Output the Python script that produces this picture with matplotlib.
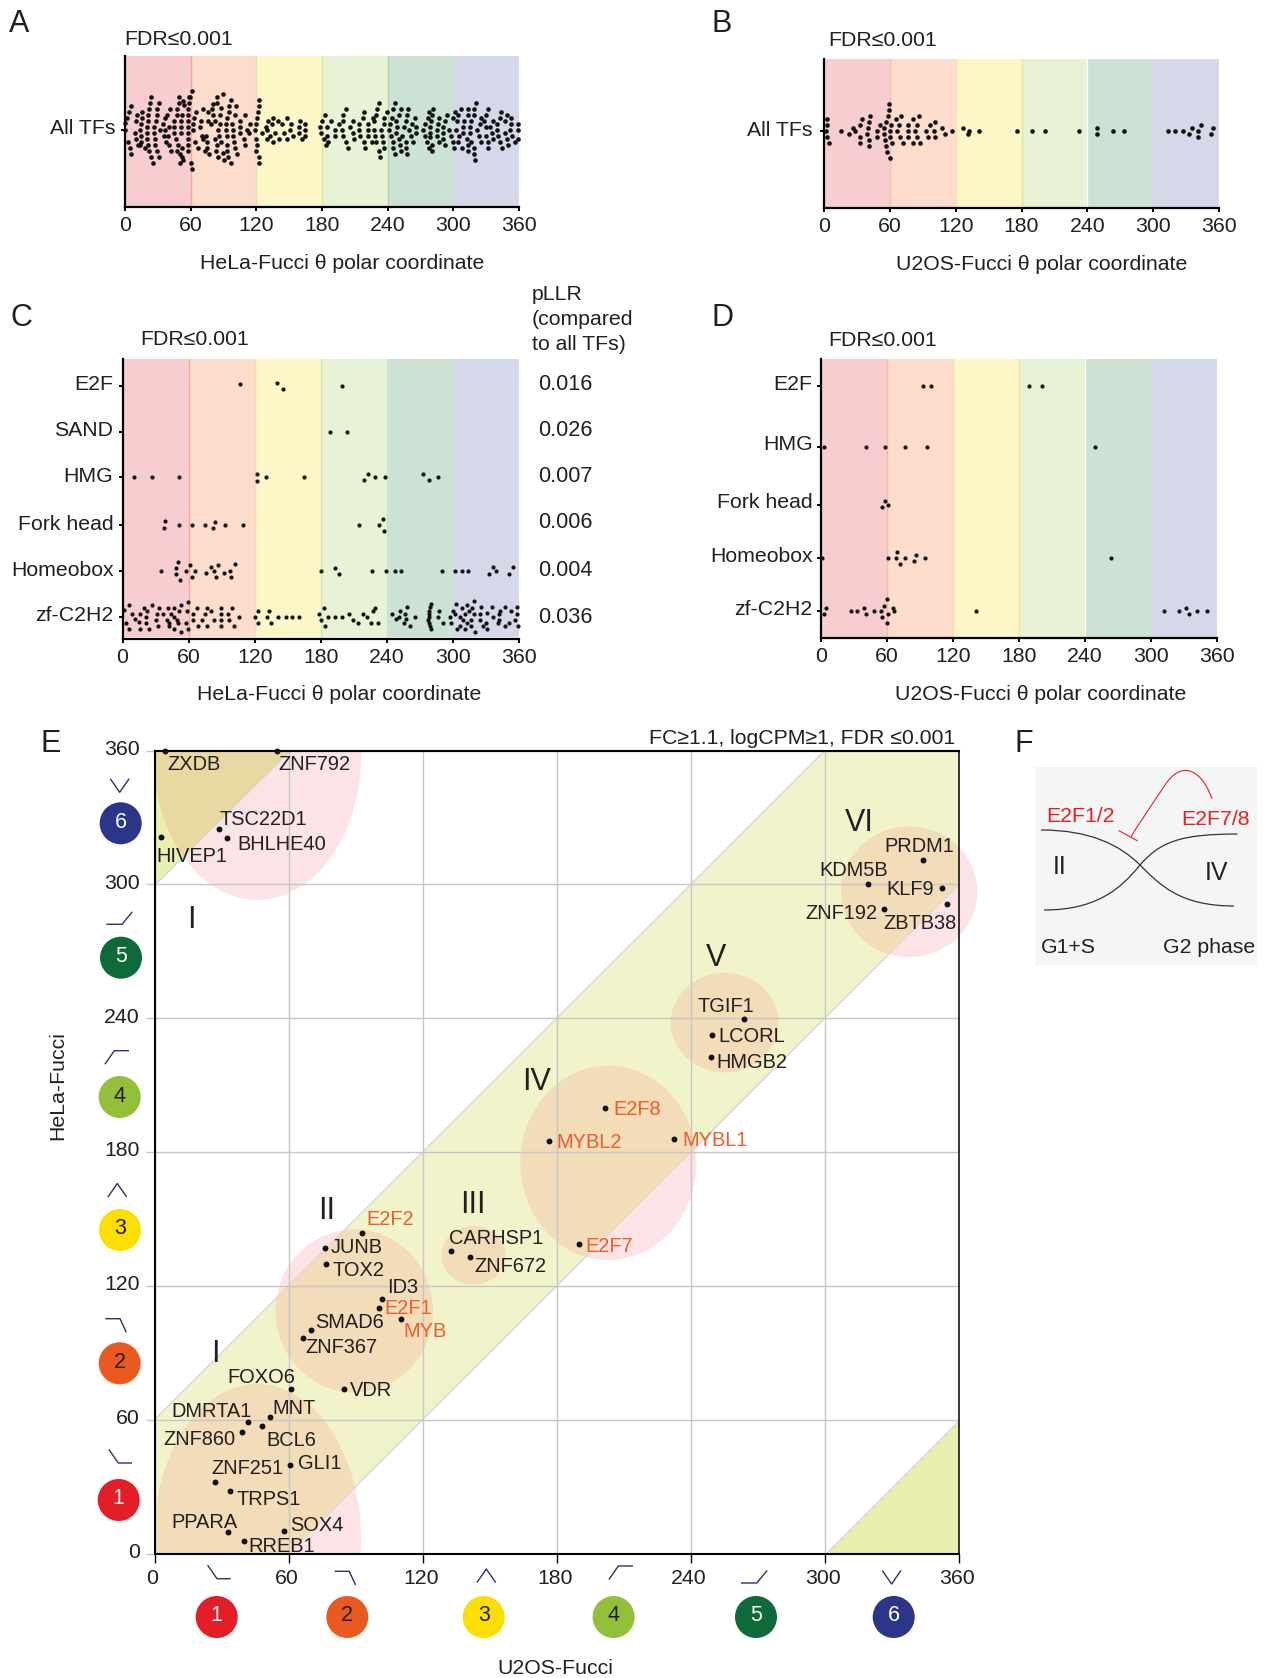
import matplotlib
matplotlib.use("Agg")
import matplotlib.pyplot as plt
from matplotlib.patches import Circle, Ellipse, PathPatch, Polygon, Rectangle
from matplotlib.path import Path
from matplotlib.transforms import ScaledTranslation

plt.rcParams["font.family"] = ["Liberation Sans", "DejaVu Sans"]

W, H = 1278, 1678
TXT = "#231f20"
FS = 15.3

# =========================
# PANEL A (HeLa, all TFs)
# =========================
a_theta = [0.3, 0.3, 3.3, 2.1, 2.7, 5.2, 4.3, 5.5, 11.3, 10, 9.4, 10, 11.9, 15.2, 14.6, 13.4, 14.3, 14.9, 13.7, 15.8,
           21.6, 21, 20.7, 20.1, 20.4, 20.1, 18.6, 22.2, 23.8, 25.9, 22.8, 24, 21.3, 26.5, 26.5, 27.1, 27.7, 28.9, 30.8, 28.3,
           29.2, 28.9, 31.1, 32, 34.4, 35.3, 37.1, 40.2, 42, 36.2, 38.7, 41.1, 39.3, 36.5, 39.9, 44.8, 44.8, 45.1, 46.6, 47.2,
           47.8, 49.6, 49, 48.4, 47.8, 50.2, 50.2, 53.3, 51.8, 52.1, 50.9, 50.9, 50.9, 51.8, 53.3, 53.9, 58.2, 58.5, 57.6, 57.2,
           57.6, 57.2, 57.9, 57.6, 57.9, 57.9, 60.9, 59.4, 60.3, 61.5,
           62.1, 63.3, 62.4, 63.9, 65.2, 67, 68.2, 69.4, 70, 71.6, 70.9, 74, 75.2, 75.5, 76.1, 77, 73.4, 75.2, 78.3, 80.1,
           79.5, 80.7, 81.9, 81.9, 84.3, 84, 85.3, 86.8, 87.7, 89.2, 88, 83.7, 83.1, 85, 89.2, 92.9, 93.5, 94.4, 90.1, 96.5,
           86.8, 85.6, 92.6, 92.9, 92.6, 92.9, 98, 98.4, 98.4, 99.6, 100.2, 102, 95, 96.5, 95, 101.7, 100.5, 104.7, 105.4, 105,
           109.3, 109, 109.6, 111.8, 113.9, 113.6,
           122.7, 122.4, 121.2, 120.3, 120, 118.5, 119.7, 120.3, 120, 122.1, 122.7, 125.1, 128.5, 130.3, 130, 129.4, 134.6, 135.5, 136.7, 134.9,
           132.5, 139.5, 140.7, 143.7, 145, 148, 147.7, 151, 151.9, 153.8, 158.6, 159, 160.2, 161.4, 164.1, 164.4, 164.7,
           178.1, 179.6, 179.3, 182.4, 181.5, 184.2, 184.2, 185.4, 183.3, 187.8, 191.8, 191.8, 195.8, 198.8, 199.4, 198.5, 198.8, 201.5, 201.5, 203.4,
           205.2, 208.2, 208.2, 209.5, 214, 214, 214.6, 217.7, 218.6, 218.6, 219.2, 222.3, 222, 222, 225.3, 226.2, 227.7, 229, 229.9, 227.7,
           228.3, 229.3, 232, 232, 232.9, 233.8, 235, 236.3, 236.9, 239, 236, 236.6,
           241.4, 242, 243, 243.9, 244.5, 244.5, 244.5, 246.6, 246.9, 247.8, 247.2, 248.4, 250.6, 252.1, 250, 252.7, 251.5, 252.1, 255.1, 256.4,
           256.7, 257.6, 256.7, 257.3, 258.2, 259.7, 260.9, 261.8, 263, 264.6, 265.8, 265.5, 272.5, 274, 274, 276.5, 277.7, 281, 280.1, 279.5,
           278.6, 278.9, 278.6, 276.1, 280.1, 277.7, 280.7, 284.7, 286.2, 287.1, 284.7, 286.8, 290.2, 290.8, 290.5, 292.3, 292.6, 293.8, 296.2, 297.8,
           299.3, 299.9, 302.3, 301.4, 303, 300.5, 304.5, 304.8, 304.5, 306.6, 307.5, 310, 308.4, 308.7, 312.1, 313.3, 313, 316.3, 314.8, 314.8,
           315.7, 313.6, 313.6, 318.8, 319.1, 320.3, 321.2, 318.5, 319.1, 319.7, 324.9, 324.3, 327.6, 330, 331.3, 329.4, 329.7, 323.6, 324.9, 331.3,
           331.6, 335.8, 335.2, 333.4, 336.4, 339.5, 339.5, 340.7, 342.5, 343.4, 342.2, 344.7, 347.1, 347.1, 349.2, 348.9, 350.4, 352.6, 352.6, 351.7,
           353.8, 356.8, 358.7, 358.7, 359]
a_offset = [6.7, 0, 18, 12.3, -11.7, 24.3, -18.3, -24, 15.3, 9, -2.7, -9, -15, 12, 6.3, 0, -6, -12, -15, 18,
            21, 15, 9, 3, -3, -9, -18, -21, -27.3, -33, 27.3, 33.3, -15, 3, -3, -9, -15, -21, -27.3, 9,
            21, 15, 27, 0, 6.3, -6, -12, -15, -21, 12, 15, 21, -6, 0, 3, 3, -3, 9, -9, 15,
            21, 33.3, 27.3, -15, -21, -24, -33, -30, -27, -18, 3, -3, 9, 15, 29.3, 25, 33.3, 27.3, 21, 15,
            9, 3, -3, -9, -15, -21, 39.3, 33.3, -33.3, -39.3,
            0, 12, 6, -12, 18, -18, 3, 9, -6, 21.3, -9, -6, -12, 9, 18, -24, -21, -18, 6, 25.7,
            21.3, 15, 9, -9, 33.3, 27.3, 0, 15, 22, 36, -12, -15.3, -21.3, -27.3, -22.7, -15.3, -20.7, -27.3, -30, -33.3,
            6, -6, 6, 12, 0, -6, 6, 0, -6, -12, -18, -24, 24, 30, 18, 24, 15, 9, 3, -2.7,
            15, -9, -15, 0, 6.3, -3,
            30, 24.3, 18, 12, 6.3, 0, -9, -15, -21, -27.3, -33.3, -2.7, 3, 9, 0, -9, 6, 12, -2.7, -11.7,
            -6, 9, -9, 6.3, -2.7, -9, 12, 0, 6.3, -6, -2.7, 3, 9, -9, 6.3, 0, -6,
            3, 9, -2.7, 15, -8.7, 3, -6, -12, -15, 9, 0, -6, 6.3, 9, 15, 0, -6, 21, -12, -18,
            3, 9, -2.7, -9, 6.3, 0, -6, 12, 18, -12, -18, 6.3, 0, -6, -12, 12, 9, 15, 21, 0,
            -6, -12, 27.3, -21, -27.3, 0, -6, 6.3, 12, 18, -12, -18,
            0, 6.3, -6, 12, 21, -12, -18, 27.3, -24, 9, -2.7, 3, 15, 21, -9, -6, -15, -21, 3, -12,
            -18, -24, 9, 15, 21, 0, -6, 6.3, -12, 12, 3, -2.7, 0, 6.3, -6, 12, 18, 21, 15, 9,
            3, -2.7, -7.3, -12, -15, -18, -21, 0, 6.3, 12, -6, -12, 3, -2.7, -9, 9, -15, 15, 0, -6,
            -12, 12, 0, 18, 9, -18, 15, -6, -12, 21, -18, 9, 3, -2.7, -9, 21, 15, 9, 3, -2.7,
            -12, -15, -21, 21, 15, 27.3, 0, -18, -24, -30, 12, 6.3, 9, 15, 21, 3, -6, -6, -12, -12,
            -18, 9, -2.7, 3, -9, 6.3, 0, -6, 12, 18, -12, -18, 9, -2.7, 15, -9, -15, 12, 6.3, 0,
            -6, -12, 6.3, 0, -9]

# =========================
# PANEL B (U2OS, all TFs)
# =========================
b_theta = [1.5, 3, 2.6, 2.6, 4.8, 15.2, 23.1, 26.8, 28.3, 33.1, 34.2, 32.4, 33.1, 39.4, 40.2, 41.7, 40.9, 40.9, 41.3, 48.3,
           48.7, 51.3, 55, 54.7, 56.5, 55.4, 56.9, 57.6, 58.8, 58, 59.5, 59.9, 61, 60.6, 60.2, 62.1, 66.6, 65.8, 69.9, 68.1,
           69.2, 71.8, 76.6, 76.2, 76.6, 80.7, 81.4, 82.9, 84.8, 86.3, 84.8, 87.4, 92.6, 94.5, 96.7, 101.5, 100.4, 101.5, 107.9, 110.1,
           116.4, 126.4, 132.4, 130.9, 141.3, 176.3, 189.3, 201.6, 232.4, 249.2, 248.8, 263.7, 273.3, 313.9, 319.5, 326.9, 332.8, 335.8, 340.7, 343.6,
           341, 352.5, 354.8]
b_offset = [0, 12, 5.7, -6, -12.3, 0, -3.3, 3, 0, 5.7, 12, -6, -12.3, -3.3, 3, 15, 8.7, -9, -15, 0,
            -6, 5.7, 3, -3.3, 9, -9, -15, -21, 21, 15, 27, -27.3, 5.7, 0, -6, -12.3, 0, 12, 15, 5.7,
            -6, -12.3, 5.7, 0, -6, -12.3, 11.7, 0, 5.7, 14.7, -6, -12.3, 0, -6, 5.7, 8.7, 0, -6, 3, -3.3,
            0, 3, 0, -3.3, 0, 0, 0, 0, 0, 3, -3.3, 0, 0, 0, 0, 0, -3.3, 3, 0, 6,
            -6, -3.3, 3]

# =========================
# PANEL C (HeLa, families)
# =========================
c_families = ["E2F", "SAND", "HMG", "Fork head", "Homeobox", "zf-C2H2"]
c_rows = [253.6, 207.3, 162, 114.3, 68.3, 22.6]
c_pllr = ["0.016", "0.026", "0.007", "0.006", "0.004", "0.036"]

c_e2f_theta = [106.9, 140.4, 145.6, 199.2]
c_e2f_off = [1.3, 3, -3, 0]
c_sand_theta = [188, 203.6]
c_sand_off = [0, 0]
c_hmg_theta = [10.8, 26.8, 51.4, 121.7, 122.5, 130.3, 164.6, 219.3, 222.6, 229.3, 238.3, 272.9, 278.1, 286.7]
c_hmg_off = [0, 0, 0, 3.3, -3.3, 0, 0, -3, 3.3, 0, 0, 3.3, -3, 0]
c_fork_theta = [38.3, 38, 51.4, 62.9, 74.5, 84.1, 81.9, 92.7, 109.5, 214.4, 236.8, 233, 237.5]
c_fork_off = [3.7, -3, 0, 0, 0, 3.3, -3, 0, 0, 0, 6.3, 0, -6]
c_homeo_theta = [35.4, 50.3, 48.8, 48.8, 52.5, 57.7, 61.1, 65.5, 63.3, 75.9, 80, 83.4, 87.1, 85.3, 92, 97.5, 102, 98.7,
                 180.2, 192.5, 196.2, 226.7, 239.4, 247.2, 252.8, 290.4, 301.9, 308.3, 313.5, 333.2, 336.2, 339.5, 350.7, 354.1]
c_homeo_off = [0, 9.3, 3.3, -3.3, -9, 0, 6, 0, -5.7, -2.3, 3.7, 0, 6, -5.7, -2.3, 0, 6.7, -5.7,
               0, 3.3, -2.7, 0, 0, 0, 0, 0, 0, 0, 0, -2.7, 3.7, 0, -2.7, 3.7]
c_zf_theta = [1.7, 6.2, 9, 3.5, 6.2, 11.7, 15.6, 14.7, 16.2, 19.9, 22.3, 21.1, 21.4, 24.4, 26.5, 32.9, 31.4, 30.2, 32, 37.2,
              41.1, 40.2, 42.3, 42.6, 46.6, 43.8, 47.2, 49.6, 50.2, 47.2, 52.9, 53.2, 51.1, 59.3, 58.4, 58.1, 59.9, 63.6, 63.6, 68.7,
              72.1, 67.2, 75.1, 76.3, 76.9, 80, 82.7, 89.7, 89, 89.4, 89.4, 96, 96.9, 99.4, 100.9, 105.4, 120.6, 123.3, 123.3, 131.2,
              133, 135.2, 141.2, 148.8, 154.3, 160.7, 178.3, 180.4, 183.1, 183.7, 186.8, 192.6, 199.5, 205.6, 209.5, 214.1, 218.3, 222.3, 227.1, 229.3,
              225.9, 232.3, 244.7, 252, 248.1, 251.1, 256.9, 258.4, 255.4, 257.2, 261.4, 265.4, 280.2, 279.3, 278.7, 278.1, 278.1, 277.8, 278.4, 279.6,
              280.5, 287.5, 286.9, 290.6, 297.8, 299.7, 298.7, 302.7, 301.5, 307.8, 306.6, 309.4, 306.6, 303.3, 312.7, 310.9, 314.2, 312.4, 311.2, 319.4,
              317.3, 319.1, 316.3, 316, 320.3, 325.1, 324.2, 324.5, 330, 327.6, 331.2, 335.5, 331.2, 336.7, 342.7, 341.5, 347.3, 342.1, 340.6, 347.6,
              351.2, 353, 358.5, 358.5, 356.1, 359.4]
c_zf_off = [6.7, 12, 3, -6, -12, -2.7, 3, -5.7, -12, 9, 6, 0, -6, -12, 12, 9, 3, -3, -9, 3,
            9, -3, -6, -9, 9, 3, 0, -3, -6, -12, -15, 12, 6, 15, 6, -6, -12, 3, -3, -9,
            -3, 9, 3, -9, 9, 6, -3, 9, 3, -3, -9, 3, -3, 9, -9, 0, 0, 6, -6, 0,
            6, -6, 0, 0, 0, 0, 3, -3, 9, -9, 0, 0, 0, 3, -3, -6, 3, 0, 6, 9,
            -6, -6, 3, 6, -2.7, 0, 3, 9.3, -6, -2.7, -9, 0, 12.3, 9.3, 6, 3, 0, -3, -6, -9,
            -12, 6, 0, -6, 0, 6, -6, 12.3, 3, 9, 0, -3, -9, -12, 12, 3, 6, -6, -12, 15.7,
            9, 3, -3, -9, -15, 9.3, 3, -3, -6, -9.3, -12, 9.3, 3.3, 0, 6, 3, 9.3, -3, -6, -9,
            -6, 6, 9.3, 3, -3, -9]

# =========================
# PANEL D (U2OS, families)
# =========================
d_families = ["E2F", "HMG", "Fork head", "Homeobox", "zf-C2H2"]
d_rows = [252.3, 191.6, 133.6, 80.3, 27]

d_e2f_theta = [92.8, 100.2, 189.3, 201.2]
d_e2f_off = [0, 0, 0, 0]
d_hmg_theta = [3, 40.8, 57.9, 76.8, 96.5, 248.7]
d_hmg_off = [0, 0, 0, 0, 0, 0]
d_fork_theta = [57.9, 60.9, 55.3]
d_fork_off = [3.3, 0, -2.7]
d_homeo_theta = [0.7, 60.5, 69, 68.3, 72, 76.5, 86.1, 85, 94.3, 263.2]
d_homeo_off = [0, 0, 6, 0, -6, 0, 3, -3, 0, 0]
d_zf_theta = [3, 4.8, 27.1, 33, 39, 40.5, 48.3, 54.6, 57.2, 55.7, 59.8, 60.5, 59.8, 65.7, 66.4, 141, 312.2, 325.5, 331.5, 334.1, 342.2, 350.8]
d_zf_off = [-3, 3, 0, 0, 3, -3, 0, 0, 5.7, -6, 12, -3, -12, 3, 0, 0, 0, 0, 3, -3, 0, 0]

# =========================
# PANEL E (scatter)
# =========================
tf_names = ["ZXDB", "ZNF792", "TSC22D1", "BHLHE40", "HIVEP1", "E2F2", "JUNB", "TOX2", "ID3", "E2F1", "MYB", "SMAD6", "ZNF367",
            "FOXO6", "VDR", "MNT", "DMRTA1", "BCL6", "ZNF860", "GLI1", "ZNF251", "TRPS1", "SOX4", "PPARA", "RREB1",
            "CARHSP1", "ZNF672", "E2F8", "MYBL2", "MYBL1", "E2F7", "TGIF1", "LCORL", "HMGB2",
            "PRDM1", "KDM5B", "KLF9", "ZNF192", "ZBTB38"]
tf_u2os = [4.6, 54.6, 29, 32.5, 2.7, 92.7, 76.4, 76.9, 101.8, 100.6, 110.3, 70, 66.6,
           61, 84.9, 51.6, 41.8, 48.2, 39, 60.6, 26.9, 34, 57.9, 32.8, 40,
           132.5, 141.4, 201.8, 176.5, 232.6, 189.8, 264, 249.4, 249.2,
           343.7, 319.2, 352.3, 326.5, 354.5]
tf_hela = [360, 360, 324.9, 320.7, 321.3, 143.9, 137, 129.9, 114.3, 110, 105.3, 100.3, 96.8,
           73.9, 73.9, 61.1, 59, 57, 54.4, 39.8, 32.2, 28, 10.1, 9.8, 5.5,
           135.4, 133.1, 199.9, 185, 186, 138.7, 239.6, 232.5, 222.7,
           310.7, 300.3, 298.5, 288.8, 291.4]
orange_tfs = ["E2F2", "E2F1", "MYB", "E2F8", "MYBL2", "MYBL1", "E2F7"]

# label anchors in figure pixels (left edge, middle)
label_x = [167.3, 278.3, 219.3, 237, 156.7, 366.3, 330.7, 332.3, 386.7, 384.7, 403.7, 315, 305.7,
           227.7, 349.7, 272.3, 171.7, 266.3, 163.3, 298.3, 211.7, 236.7, 289.7, 171.7, 248,
           449, 474, 613.7, 556.4, 682, 585, 697.5, 718.8, 716.7,
           884, 819.4, 886.4, 805.5, 883.6]
label_y = [765, 765, 819.3, 844.3, 857, 1219.3, 1247.7, 1270.3, 1287.7, 1308.7, 1331.3, 1322.3, 1347.7,
           1377.3, 1390.7, 1408.7, 1411.7, 1440.7, 1439.3, 1463.7, 1468.7, 1499.3, 1525.3, 1522.7, 1546,
           1238, 1266.8, 1109.2, 1142.4, 1140.4, 1246.4, 1006.3, 1037, 1062.7,
           846, 870.3, 889.7, 913.7, 923.7]

# clusters: u2os centre, hela centre, half widths
cl_u = [46, 46, 89.4, 142.7, 203.1, 255.1, 337.7]
cl_h = [6, 358, 108.8, 133.7, 175.1, 238, 296.7]
cl_ru = [46.5, 46.5, 35.2, 14.3, 39.4, 24.1, 30.5]
cl_rh = [70, 65, 36.6, 13.2, 43.6, 22.3, 29.3]

roman = ["I", "I", "II", "III", "IV", "V", "VI"]
roman_x = [191.3, 215.3, 326.7, 473.3, 537, 715.7, 858.8]
roman_y = [919.5, 1354, 1211, 1205, 1082.5, 957.5, 823]

phase_colors = ["#e31e26", "#ea5a20", "#fcde00", "#93bf3b", "#0e6a38", "#2b3589"]
phase_text = ["white", TXT, TXT, TXT, "white", "white"]
xcirc_x = [216.7, 347.3, 483.7, 613.6, 756, 893.7]
ycirc_y = [1500, 1363.3, 1230, 1097, 957.7, 823.3]
ycirc_x = [118.7, 119.7, 120, 119.7, 121, 120.7]

band_colors = ["#f8cdd0", "#fcdccb", "#fdf7c8", "#e8f2d4", "#cce2d5", "#d4d8e9"]
ticks_deg = [0, 60, 120, 180, 240, 300, 360]


def make_axes(left, right, top, bottom):
    return fig.add_axes([left / W, 1 - bottom / H, (right - left) / W, (bottom - top) / H])


def nudge(labels, dx=0, dy=0):
    # tick labels sit a little off their ticks in the original
    for lab in labels:
        lab.set_transform(lab.get_transform() + ScaledTranslation(dx / 100, dy / 100, fig.dpi_scale_trans))


def style_strip(ax, ylim, edge_colors, gap=0.0, ypad=5):
    ax.set_xlim(0, 360)
    ax.set_ylim(*ylim)
    for i, c in enumerate(band_colors):
        ax.axvspan(i * 60, (i + 1) * 60, ymin=gap, color=c, lw=0, zorder=0)
    for i, c in enumerate(edge_colors):
        ax.axvline((i + 1) * 60, ymin=gap, color=c, lw=1.0, zorder=0.5)
    ax.spines["top"].set_visible(False)
    ax.spines["right"].set_visible(False)
    ax.spines["left"].set_linewidth(1.6)
    ax.spines["bottom"].set_linewidth(1.6)
    ax.set_xticks(ticks_deg)
    ax.tick_params(axis="x", length=3, width=1.4, pad=3, labelsize=FS, labelcolor=TXT)
    ax.tick_params(axis="y", length=3, width=1.4, pad=ypad, labelsize=FS, labelcolor=TXT)


def dots(ax, x, y, size=11, zorder=5):
    ax.scatter(x, y, s=size, color="#111111", lw=0, zorder=zorder, clip_on=False)


fig = plt.figure(figsize=(W / 100, H / 100), dpi=100)

# =========================
# A + B
# =========================
ax_a = make_axes(125, 519, 56, 207.3)
style_strip(ax_a, (-77.3, 74), ["#f4a9a8", "#fbd3a8", "#dde89a", "#b5d3a8", "#cce2d5"], ypad=3.5)
ax_a.set_yticks([0])
ax_a.set_yticklabels(["All TFs"])
nudge(ax_a.get_yticklabels(), dy=3)
dots(ax_a, a_theta, a_offset)

ax_b = make_axes(824, 1219, 58.7, 208.3)
style_strip(ax_b, (-77.3, 72.3), ["#f8c0a8", "#fce0a8", "#e0e6a0", "white", "#d4d8e9"])
ax_b.set_yticks([0])
ax_b.set_yticklabels(["All TFs"])
nudge(ax_b.get_yticklabels(), dy=3)
dots(ax_b, b_theta, b_offset)

# =========================
# C + D
# =========================
ax_c = make_axes(122.5, 519, 359.3, 639.3)
style_strip(ax_c, (0, 280), ["#f4a898", "#fcd8b0", "#dfe6a0", "#cfe2d0", "#d4d8e9"], gap=0.008, ypad=3.5)
ax_c.set_yticks(c_rows)
ax_c.set_yticklabels(c_families)
nudge(ax_c.get_yticklabels(), dy=3)
c_series = [(c_e2f_theta, c_e2f_off), (c_sand_theta, c_sand_off), (c_hmg_theta, c_hmg_off),
            (c_fork_theta, c_fork_off), (c_homeo_theta, c_homeo_off), (c_zf_theta, c_zf_off)]
for row, (th, off) in zip(c_rows, c_series):
    dots(ax_c, th, [row + o for o in off], size=9)

ax_d = make_axes(821, 1217, 359.3, 638.3)
style_strip(ax_d, (0, 279), ["#f8b8a8", "#fcdca8", "#eee6a0", "white", "#d4d8e9"], ypad=3)
ax_d.set_yticks(d_rows)
ax_d.set_yticklabels(d_families)
nudge(ax_d.get_yticklabels(), dy=4)
d_series = [(d_e2f_theta, d_e2f_off), (d_hmg_theta, d_hmg_off), (d_fork_theta, d_fork_off),
            (d_homeo_theta, d_homeo_off), (d_zf_theta, d_zf_off)]
for row, (th, off) in zip(d_rows, d_series):
    dots(ax_d, th, [row + o for o in off], size=9)

# =========================
# E
# =========================
ax_e = make_axes(154.5, 959, 750.5, 1553.5)
ax_e.set_xlim(0, 360)
ax_e.set_ylim(0, 360)
for i, (u, h, ru, rh) in enumerate(zip(cl_u, cl_h, cl_ru, cl_rh)):
    # the last cluster runs past the right frame in the original
    ax_e.add_patch(Ellipse((u, h), 2 * ru, 2 * rh, fc="#fce4e6", lw=0, zorder=1,
                           clip_on=(i != len(cl_u) - 1)))
band = 60
band_shape = Polygon([(0, 0), (0, band), (360 - band, 360), (360, 360), (360, 360 - band), (band, 0)],
                     fc="#f1f4cb", ec="#cfcfcf", lw=0.8, zorder=1.2)
corner_ul = Polygon([(0, 360 - band), (0, 360), (band, 360)], fc="#e9efb0", ec="#cfcfcf", lw=0.8, zorder=1.2)
corner_lr = Polygon([(360 - band, 0), (360, 0), (360, band)], fc="#e9efb0", ec="#cfcfcf", lw=0.8, zorder=1.2)
for shape in (band_shape, corner_ul, corner_lr):
    ax_e.add_patch(shape)
# tan where a cluster overlaps a band
for u, h, ru, rh in zip(cl_u, cl_h, cl_ru, cl_rh):
    for shape, tan in ((band_shape, "#f3dcb8"), (corner_ul, "#ead8a3")):
        overlap = Ellipse((u, h), 2 * ru, 2 * rh, fc=tan, lw=0, zorder=1.4)
        ax_e.add_patch(overlap)
        overlap.set_clip_path(shape)
ax_e.set_xticks(ticks_deg)
ax_e.set_yticks(ticks_deg)
ax_e.set_axisbelow(False)
ax_e.grid(True, color="#c6c6c6", lw=1.0)
ax_e.tick_params(axis="x", length=6.5, width=1.0, pad=4.5, labelsize=FS, labelcolor=TXT)
ax_e.tick_params(axis="y", length=6.5, width=1.0, pad=4, labelsize=FS, labelcolor=TXT, color="#c6c6c6")
nudge(ax_e.get_yticklabels(), dy=3)
nudge(ax_e.get_xticklabels(), dx=-2)
ax_e.get_yticklines()[0].set_color("black")
ax_e.get_yticklines()[-2].set_color("black")
for s in ax_e.spines.values():
    s.set_linewidth(1.5)
    s.set_zorder(4)
ax_e.spines["right"].set_linewidth(1.1)
dots(ax_e, tf_u2os, tf_hela, size=18)

# =========================
# OVERLAY, figure pixels
# =========================
ov = fig.add_axes([0, 0, 1, 1], zorder=10)
ov.set_xlim(0, W)
ov.set_ylim(H, 0)
ov.axis("off")


def put(x, y, s, size=FS, color=TXT, ha="left", rotation=0):
    ov.text(x, y, s, fontsize=size, color=color, ha=ha, va="center", rotation=rotation)


for s, x, y in [("A", 9, 23.5), ("B", 711, 23.5), ("C", 10, 317.7), ("D", 711, 318), ("E", 40.7, 743.7), ("F", 1014.5, 743.7)]:
    put(x, y, s, size=22)

for x, y in [(124.4, 39.3), (828.6, 40.2), (140, 339.3), (828.6, 340.7)]:
    put(x, y, "FDR≤0.001")

put(342, 263.5, "HeLa-Fucci θ polar coordinate", ha="center")
put(1042, 264.5, "U2OS-Fucci θ polar coordinate", ha="center")
put(339, 695, "HeLa-Fucci θ polar coordinate", ha="center")
put(1041, 694, "U2OS-Fucci θ polar coordinate", ha="center")

put(531.6, 294.3, "pLLR")
put(531.6, 319.3, "(compared")
put(531.6, 344.3, "to all TFs)")
for v, y in zip(c_pllr, [384, 430, 476.7, 522.3, 570, 617.3]):
    put(538.5, y, v, size=15.6)

# E labels
put(955, 738.7, "FC≥1.1, logCPM≥1, FDR ≤0.001", ha="right")
put(57.7, 1085.8, "HeLa-Fucci", ha="center", rotation=90)
put(555.5, 1669, "U2OS-Fucci", ha="center")
for name, x, y in zip(tf_names, label_x, label_y):
    put(x, y, name, size=14.4, color="#f15a29" if name in orange_tfs else TXT)
for s, x, y in zip(roman, roman_x, roman_y):
    put(x, y, s, size=22, ha="center")

# phase badges on both axes
for i in range(6):
    ov.add_patch(Circle((xcirc_x[i], 1617), 21, color=phase_colors[i], lw=0))
    put(xcirc_x[i], 1615.5, str(i + 1), color=phase_text[i], ha="center", size=15.5)
    ov.add_patch(Circle((ycirc_x[i], ycirc_y[i]), 21, color=phase_colors[i], lw=0))
    put(ycirc_x[i], ycirc_y[i] - 1, str(i + 1), color=phase_text[i], ha="center", size=15.5)

# little trend glyphs next to the badges, (dx, dy) from glyph start
glyph_shape = [[(0, 0), (9, 13), (22, 13)], [(0, 0), (14, 0), (20, 13)], [(0, 13), (9, 0), (18, 13)],
               [(0, 13), (9, 0), (23, 0)], [(0, 12), (15, 12), (25, 0)], [(0, 0), (9, 13), (18, 0)]]
xglyph = [(208, 1565.7), (335.3, 1571.3), (477.3, 1569), (609.3, 1566), (741.7, 1571), (882.6, 1571)]
yglyph = [(109.3, 1450), (106, 1318.7), (108.3, 1183.5), (105.3, 1050.7), (107, 912.3), (110.7, 779.3)]
for (gx, gy), shape in zip(xglyph + yglyph, glyph_shape + glyph_shape):
    ov.plot([gx + p[0] for p in shape], [gy + p[1] for p in shape], color="#2e3169", lw=1.0)

# =========================
# F
# =========================
ov.add_patch(Rectangle((1035, 766.7), 222, 198.3, fc="#f4f6f5", lw=0))
MV, CV = Path.MOVETO, Path.CURVE4
curve_down = Path([(1041, 830), (1090, 830), (1120, 845), (1140, 865), (1160, 885), (1180, 906), (1234, 906)],
                  [MV, CV, CV, CV, CV, CV, CV])
curve_up = Path([(1044, 910), (1095, 910), (1120, 890), (1140, 865), (1160, 842), (1180, 834), (1237.5, 834)],
                [MV, CV, CV, CV, CV, CV, CV])
arc = Path([(1212, 798.7), (1200, 766), (1180, 762), (1165, 785), (1155, 800), (1140, 822), (1131, 836.7)],
           [MV, CV, CV, CV, CV, CV, CV])
ov.add_patch(PathPatch(curve_down, fc="none", ec="#333333", lw=0.9))
ov.add_patch(PathPatch(curve_up, fc="none", ec="#333333", lw=0.9))
ov.add_patch(PathPatch(arc, fc="none", ec="#ed1c24", lw=0.8))
ov.plot([1119, 1137.2], [830.7, 840.7], color="#ed1c24", lw=0.8)
put(1046, 816.3, "E2F1/2", color="#ed1c24")
put(1181, 819.7, "E2F7/8", color="#ed1c24")
put(1060, 867, "II", size=18, ha="center")
put(1216.8, 872.5, "IV", size=18, ha="center")
put(1040.5, 947.7, "G1+S")
put(1163, 947.7, "G2 phase")

fig.savefig("out.png", dpi=100)
